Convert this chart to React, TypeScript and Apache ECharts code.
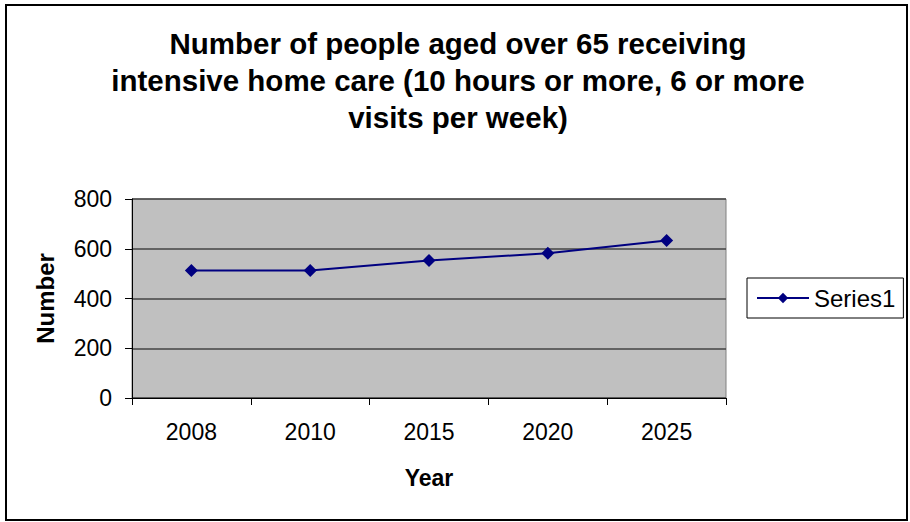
import React, { useEffect, useRef } from "react";
import * as echarts from "echarts";

const categories = ["2008", "2010", "2015", "2020", "2025"];
const values = [513, 513, 553, 582, 633];
const seriesName = "Series1";
const titleText = "Number of people aged over 65 receiving\nintensive home care (10 hours or more, 6 or more\nvisits per week)";
const xAxisTitle = "Year";
const yAxisTitle = "Number";

export default function App() {
  const ref = useRef<HTMLDivElement>(null);
  useEffect(() => {
    document.body.style.margin = "0";
    const chart = echarts.init(ref.current!, null, { renderer: "svg" });
    const font = "'Liberation Sans', Arial, sans-serif";
    chart.setOption({
      animation: false,
      backgroundColor: "#ffffff",
      textStyle: { fontFamily: font },
      title: {
        text: titleText,
        left: 453,
        textAlign: "center",
        top: 20,
        textStyle: { fontSize: 29.5, fontWeight: "bold", color: "#000", lineHeight: 37, fontFamily: font },
      },
      graphic: [
        {
          type: "rect",
          shape: { x: 6, y: 5, width: 901, height: 515 },
          style: { fill: "none", stroke: "#000", lineWidth: 2 },
        },
      ],
      legend: {
        orient: "vertical",
        left: 747,
        top: 278,
        padding: [8, 8, 8, 9],
        borderColor: "#000",
        borderWidth: 1,
        itemWidth: 52,
        itemHeight: 13,
        itemGap: 0,
        textStyle: { fontSize: 24, color: "#000", fontFamily: font },
        data: [seriesName],
      },
      grid: { left: 132, right: 184, top: 199, bottom: 124, show: true, backgroundColor: "#c0c0c0", borderWidth: 1, borderColor: "#808080" },
      xAxis: {
        type: "category",
        data: categories,
        boundaryGap: true,
        name: xAxisTitle,
        nameLocation: "middle",
        nameGap: 68,
        nameTextStyle: { fontSize: 23, fontWeight: "bold", color: "#000", fontFamily: font },
        axisLine: { lineStyle: { color: "#000", width: 1 } },
        axisTick: { show: true, length: 7, alignWithLabel: false, lineStyle: { color: "#000" } },
        axisLabel: { fontSize: 23, color: "#000", margin: 22, fontFamily: font },
        splitLine: { show: false },
      },
      yAxis: {
        type: "value",
        min: 0,
        max: 800,
        interval: 200,
        name: yAxisTitle,
        nameLocation: "middle",
        nameGap: 75,
        nameTextStyle: { fontSize: 24, fontWeight: "bold", color: "#000", fontFamily: font },
        axisLine: { show: true, lineStyle: { color: "#000", width: 1 } },
        axisTick: { show: true, length: 7, lineStyle: { color: "#000" } },
        axisLabel: { fontSize: 23, color: "#000", margin: 20, fontFamily: font },
        splitLine: { show: true, lineStyle: { color: "#444", width: 1.5 } },
      },
      series: [
        {
          name: seriesName,
          type: "line",
          data: values,
          symbol: "diamond",
          symbolSize: 13,
          itemStyle: { color: "#000080" },
          lineStyle: { color: "#000080", width: 2 },
        },
      ],
    });
    return () => chart.dispose();
  }, []);
  return <div ref={ref} style={{ width: 910, height: 522 }} />;
}
